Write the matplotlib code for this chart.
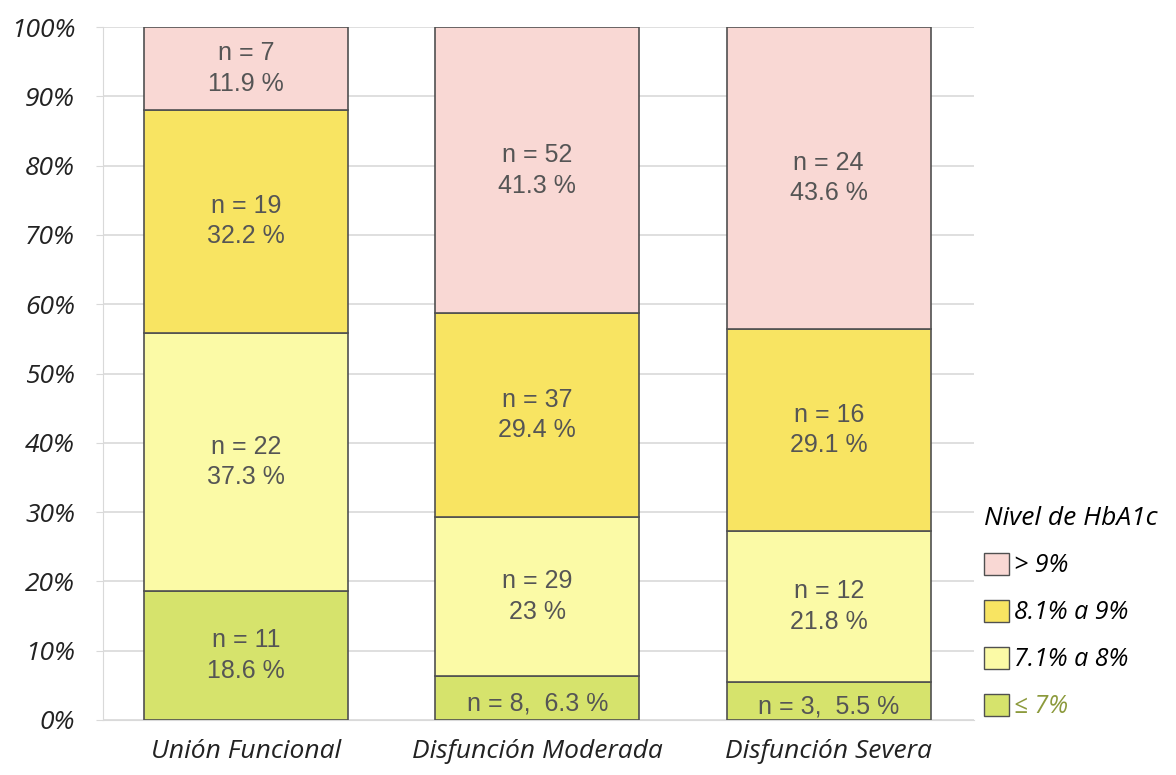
import matplotlib.pyplot as plt
from matplotlib.patches import Patch
from matplotlib.ticker import PercentFormatter

categorias = ["Unión Funcional", "Disfunción Moderada", "Disfunción Severa"]
niveles = ["≤ 7%", "7.1% a 8%", "8.1% a 9%", "> 9%"]

# porcentaje y n por nivel (de abajo hacia arriba)
pct_le7 = [18.6, 6.3, 5.5]
pct_71_8 = [37.3, 23, 21.8]
pct_81_9 = [32.2, 29.4, 29.1]
pct_gt9 = [11.9, 41.3, 43.6]

n_le7 = [11, 8, 3]
n_71_8 = [22, 29, 12]
n_81_9 = [19, 37, 16]
n_gt9 = [7, 52, 24]

colores = ['#d6e36c', '#fbfaa6', '#f8e462', '#f9d8d4']
texto_gris = '#555555'

# texto de ejes y leyenda en cursiva
plt.rcParams['font.family'] = ['Open Sans', 'DejaVu Sans']
plt.rcParams['font.style'] = 'italic'

fig = plt.figure(figsize=(11.76, 7.75), dpi=100)
ax = fig.add_axes([0.0876, 0.071, 0.741, 0.894])

pcts = [pct_le7, pct_71_8, pct_81_9, pct_gt9]
ns = [n_le7, n_71_8, n_81_9, n_gt9]
x = list(range(len(categorias)))
base = [0, 0, 0]
for nivel, (p, n, c) in enumerate(zip(pcts, ns, colores)):
    ax.bar(x, p, bottom=base, width=0.7, color=c, edgecolor='#505050',
           linewidth=1.2, zorder=3)
    for i in x:
        yc = base[i] + p[i] / 2
        if p[i] < 8:
            txt = f"n = {n[i]},  {p[i]:g} %"
            yc = base[i] + p[i] / 2 - 0.8
        else:
            txt = f"n = {n[i]}\n{p[i]:g} %"
        ax.text(i, yc, txt, ha='center', va='center', fontsize=18,
                family=['Liberation Sans', 'DejaVu Sans'], style='normal',
                color=texto_gris, linespacing=1.35, zorder=4)
    base = [b + v for b, v in zip(base, p)]

ax.set_xlim(-0.49, 2.5)
ax.set_ylim(0, 100)
ax.set_yticks(range(0, 101, 10))
ax.yaxis.set_major_formatter(PercentFormatter(decimals=0))
ax.grid(axis='y', color='#d9d9d9', linewidth=1.2, zorder=0)
ax.set_xticks(x)
ax.set_xticklabels(categorias)
ax.tick_params(axis='x', length=0, pad=14, labelsize=19, labelcolor='#222222')
ax.tick_params(axis='y', length=5, color='#d9d9d9', pad=15, labelsize=19,
               labelcolor='#222222')
for s in ['top', 'right']:
    ax.spines[s].set_visible(False)
ax.spines['left'].set_color('#d9d9d9')
ax.spines['bottom'].set_color('#d9d9d9')

handles = [Patch(facecolor=colores[k], edgecolor='#505050', label=niveles[k])
           for k in [3, 2, 1, 0]]
leg = fig.legend(handles=handles, title="Nivel de HbA1c", loc='upper left',
                 bbox_to_anchor=(0.824, 0.366), frameon=False,
                 prop={'size': 18}, title_fontsize=19,
                 handlelength=1.0, handleheight=1.0, handletextpad=0.2,
                 labelspacing=0.85, alignment='left', borderaxespad=0.2)
leg.get_texts()[3].set_color('#8c9a3c')

fig.savefig('out.png', dpi=100)
